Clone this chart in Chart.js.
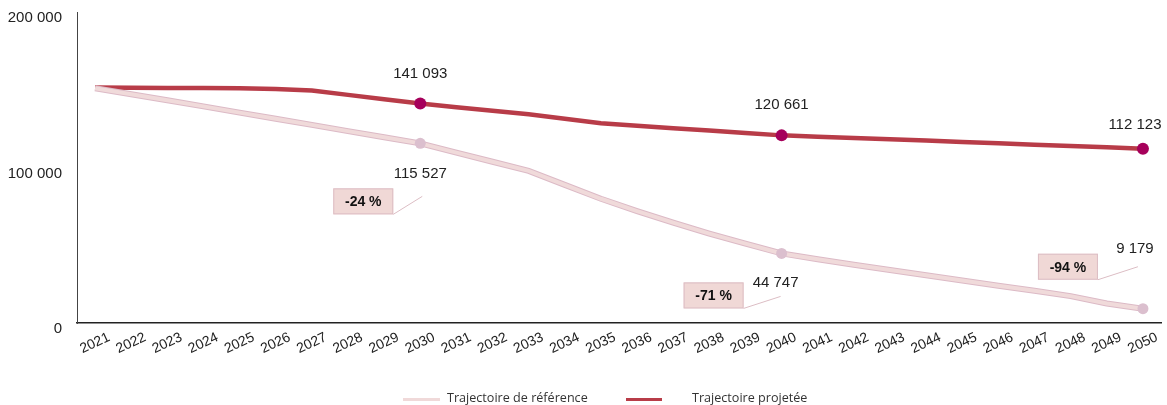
<!DOCTYPE html>
<html>
<head>
<meta charset="utf-8">
<script src="https://cdn.jsdelivr.net/npm/chart.js@4.4.1/dist/chart.umd.min.js"></script>
<style>
  body { margin: 0; background: #fff; }
  #wrap { position: relative; width: 1167px; height: 405px; }
  #legend { position: absolute; left: 0; top: 390px; width: 1167px; height: 15px;
            font: 12.6px "Open Sans", sans-serif; color: #333; }
  #legend .sw { position: absolute; top: 8px; height: 3px; }
  #legend .tx { position: absolute; top: -1px; white-space: nowrap; }
</style>
</head>
<body>
<div id="wrap">
  <canvas id="chart" width="1167" height="405"></canvas>
  <div id="legend">
    <div class="sw" style="left:403px;width:37px;background:#f0d9d9"></div>
    <div class="tx" style="left:447px">Trajectoire de référence</div>
    <div class="sw" style="left:626px;width:36px;background:#b83c48"></div>
    <div class="tx" style="left:692px">Trajectoire projetée</div>
  </div>
</div>
<script>
// Data
const years = ['2021','2022','2023','2024','2025','2026','2027','2028','2029','2030',
  '2031','2032','2033','2034','2035','2036','2037','2038','2039','2040',
  '2041','2042','2043','2044','2045','2046','2047','2048','2049','2050'];

const reference = [151000, 147100, 143200, 139300, 135300, 131400, 127400, 123400, 119500, 115527,
  109600, 103700, 97800, 88800, 79900, 72000, 64500, 57500, 51000, 44747,
  41000, 37500, 34100, 30700, 27300, 24000, 20700, 17300, 12500, 9179];

const projected = [151400, 151300, 151200, 151100, 151000, 150500, 149500, 146700, 143900, 141093,
  138800, 136500, 134200, 131400, 128500, 126900, 125300, 123800, 122200, 120661,
  119800, 119000, 118100, 117300, 116400, 115600, 114700, 113800, 113000, 112123];

const markedIdx = [9, 19, 29];           // 2030, 2040, 2050
const changeLabels = ['-24 %', '-71 %', '-94 %'];
const yTicks = [0, 100000, 200000];

// label placement (pixels, relative to the marker)
const projLabelOff = [[0, -30], [0, -31], [-8, -24]];
const refLabelOff  = [[0, 31], [-6, 29], [-8, -60]];
const boxOff       = [[-57, 58], [-68, 42], [-75, -42]];
const leaderEnd    = [[2, 53], [-1, 43], [-5, -42]];

const fmt = v => String(v).replace(/\B(?=(\d{3})+(?!\d))/g, ' ');
const tickFont = { family: '"Liberation Sans", Arial, sans-serif', size: 14 };
const valueFont = '15px "Liberation Sans", Arial, sans-serif';

const isMarked = c => markedIdx.includes(c.dataIndex);

const callouts = {
  id: 'callouts',
  afterDatasetsDraw(chart) {
    const { ctx, scales: { x, y } } = chart;
    ctx.save();
    ctx.textAlign = 'center';
    ctx.textBaseline = 'middle';
    markedIdx.forEach((i, k) => {
      const px = x.getPixelForValue(i);
      const pyP = y.getPixelForValue(projected[i]);
      const pyR = y.getPixelForValue(reference[i]);

      ctx.font = valueFont;
      ctx.fillStyle = '#222';
      ctx.fillText(fmt(projected[i]), px + projLabelOff[k][0], pyP + projLabelOff[k][1]);
      ctx.fillText(fmt(reference[i]), px + refLabelOff[k][0], pyR + refLabelOff[k][1]);

      // change box with leader line
      const cx = px + boxOff[k][0], cy = pyR + boxOff[k][1];
      const w = 60, h = 26;
      ctx.fillStyle = '#f0d8d6';
      ctx.strokeStyle = '#dcbdc4';
      ctx.lineWidth = 1;
      ctx.fillRect(cx - w / 2, cy - h / 2, w, h);
      ctx.strokeRect(cx - w / 2 + 0.5, cy - h / 2 + 0.5, w - 1, h - 1);
      ctx.beginPath();
      ctx.moveTo(cx + w / 2, cy + h / 2);
      ctx.lineTo(px + leaderEnd[k][0], pyR + leaderEnd[k][1]);
      ctx.stroke();

      ctx.font = 'bold 14px "Liberation Sans", Arial, sans-serif';
      ctx.fillStyle = '#111';
      ctx.fillText(changeLabels[k], cx, cy + 1);
    });
    ctx.restore();
  }
};

new Chart(document.getElementById('chart'), {
  type: 'line',
  data: {
    labels: years,
    datasets: [
      {
        label: 'Trajectoire de référence',
        data: reference,
        borderColor: '#f0dada',
        borderWidth: 4,
        pointRadius: c => isMarked(c) ? 5.5 : 0,
        pointBackgroundColor: '#dbbfce',
        pointBorderWidth: 0,
        tension: 0,
        order: 1
      },
      {
        label: 'outline',
        data: reference,
        borderColor: '#dcbac6',
        borderWidth: 6,
        pointRadius: 0,
        tension: 0,
        order: 2
      },
      {
        label: 'Trajectoire projetée',
        data: projected,
        borderColor: '#b83c48',
        borderWidth: 4.5,
        pointRadius: c => isMarked(c) ? 6 : 0,
        pointBackgroundColor: '#a6005b',
        pointBorderWidth: 0,
        tension: 0,
        order: 3
      }
    ]
  },
  options: {
    responsive: false,
    animation: false,
    devicePixelRatio: 1,
    layout: { padding: { left: 0, right: 4, top: 12, bottom: 0 } },
    plugins: { legend: { display: false }, tooltip: { enabled: false } },
    scales: {
      x: {
        offset: true,
        grid: { display: false, drawTicks: false },
        border: { display: true, color: '#222', width: 1.5 },
        ticks: {
          autoSkip: false, minRotation: 25, maxRotation: 25,
          labelOffset: 14, padding: 6, color: '#222', font: tickFont
        },
        afterFit: s => { s.height = 82; }
      },
      y: {
        min: 0, max: 200000,
        afterBuildTicks: s => { s.ticks = yTicks.map(v => ({ value: v })); },
        grid: { display: false, drawTicks: false },
        border: { display: true, color: '#444', width: 1 },
        ticks: { padding: 15, labelOffset: 6, color: '#222',
                 font: { family: tickFont.family, size: 15 }, callback: v => fmt(v) },
        afterFit: s => { s.width = 77; s.paddingTop = 0; s.paddingBottom = 0; }
      }
    }
  },
  plugins: [callouts]
});
</script>
</body>
</html>
